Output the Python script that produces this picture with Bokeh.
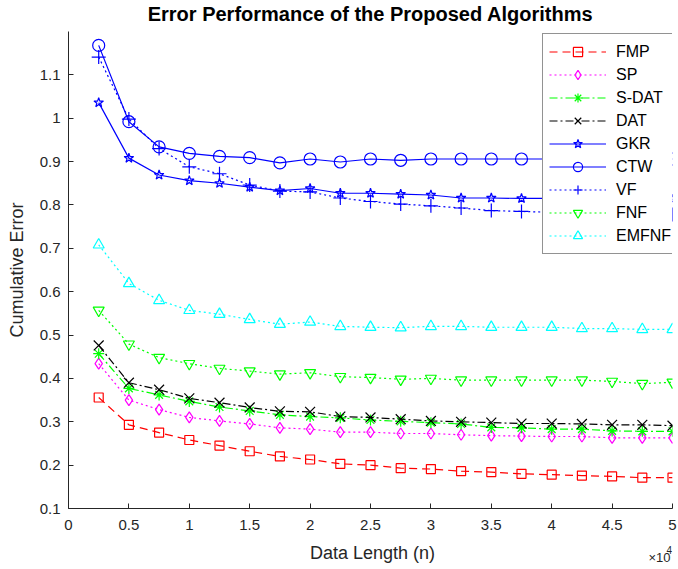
from bokeh.plotting import figure
from bokeh.models import (Range1d, FixedTicker, CustomJSTickFormatter, Legend, LegendItem, Label)
from bokeh.layouts import column
from bokeh.embed import file_html
from bokeh.resources import INLINE

# ---- data ----
n = [2500, 5000, 7500, 10000, 12500, 15000, 17500, 20000, 22500, 25000,
     27500, 30000, 32500, 35000, 37500, 40000, 42500, 45000, 47500, 50000]

FMP = [0.356, 0.293, 0.275, 0.258, 0.245, 0.232, 0.220, 0.213, 0.203, 0.200,
       0.193, 0.191, 0.186, 0.184, 0.180, 0.178, 0.176, 0.174, 0.171, 0.171]
SP = [0.434, 0.350, 0.328, 0.310, 0.302, 0.295, 0.286, 0.283, 0.276, 0.276,
      0.273, 0.273, 0.270, 0.268, 0.267, 0.266, 0.266, 0.263, 0.263, 0.263]
SDAT = [0.457, 0.377, 0.362, 0.347, 0.334, 0.325, 0.316, 0.312, 0.309, 0.304,
        0.301, 0.298, 0.295, 0.287, 0.286, 0.283, 0.283, 0.279, 0.278, 0.278]
DAT = [0.476, 0.390, 0.374, 0.354, 0.344, 0.333, 0.324, 0.323, 0.312, 0.310,
       0.306, 0.302, 0.300, 0.298, 0.296, 0.296, 0.295, 0.293, 0.293, 0.291]
GKR = [1.036, 0.908, 0.869, 0.856, 0.850, 0.841, 0.833, 0.838, 0.827, 0.827,
       0.825, 0.823, 0.816, 0.816, 0.815, 0.815, 0.814, 0.814, 0.813, 0.813]
CTW = [1.168, 0.992, 0.934, 0.919, 0.912, 0.909, 0.897, 0.906, 0.899, 0.906,
       0.903, 0.906, 0.906, 0.906, 0.906, 0.906, 0.906, 0.906, 0.906, 0.906]
VF = [1.141, 0.998, 0.930, 0.888, 0.872, 0.846, 0.832, 0.830, 0.816, 0.808,
      0.802, 0.798, 0.793, 0.787, 0.785, 0.783, 0.782, 0.780, 0.779, 0.778]
FNF = [0.557, 0.479, 0.448, 0.434, 0.423, 0.417, 0.410, 0.413, 0.404, 0.402,
       0.398, 0.400, 0.396, 0.396, 0.396, 0.396, 0.396, 0.393, 0.388, 0.391]
EMFNF = [0.708, 0.619, 0.580, 0.557, 0.548, 0.536, 0.525, 0.530, 0.520, 0.518,
         0.517, 0.520, 0.520, 0.518, 0.518, 0.518, 0.515, 0.515, 0.513, 0.513]

names = ["FMP", "SP", "S-DAT", "DAT", "GKR", "CTW", "VF", "FNF", "EMFNF"]
series = [FMP, SP, SDAT, DAT, GKR, CTW, VF, FNF, EMFNF]
colors = ["#ff0000", "#ff00ff", "#00ff00", "#000000", "#0000ff", "#0000ff",
          "#0000ff", "#00ff00", "#00ffff"]
dashes = ["8 5", "2 3", "8 3 2 3", "8 3 2 3", "solid", "solid", "2 3", "2 3", "2 3"]
markers = ["square", "diamond", "asterisk", "x", "star", "circle", "cross",
           "inverted_triangle", "triangle"]
msizes = [9, 11, 11, 14, 10, 12, 14, 11, 11]

x_ticks = [0, 5000, 10000, 15000, 20000, 25000, 30000, 35000, 40000, 45000, 50000]
y_ticks = [0.1, 0.2, 0.3, 0.4, 0.5, 0.6, 0.7, 0.8, 0.9, 1.0, 1.1]
title_text = "Error Performance of the Proposed Algorithms"
x_label = "Data Length (n)"
y_label = "Cumulative Error"

FONT = "Liberation Sans"
AX = "#262626"
W = 678
LEFT, RIGHT = 68, 6
TOP_H, MAIN_H, BOT_H = 31, 508, 29

xr = Range1d(0, 50000)
X_MID = (xr.start + xr.end) / 2


def strip(h):
    f = figure(width=W, height=h, x_range=xr, y_range=Range1d(0, h),
               x_axis_type=None, y_axis_type=None, output_backend="svg",
               toolbar_location=None, min_border=0,
               min_border_left=LEFT, min_border_right=RIGHT)
    f.outline_line_color = None
    f.grid.visible = False
    return f


# ---- title strip ----
p_top = strip(TOP_H)
p_top.add_layout(Label(x=X_MID, y=TOP_H - 13, text=title_text,
                       text_font=FONT, text_font_size="20px", text_font_style="bold",
                       text_color="#000000", text_align="center",
                       text_baseline="middle"))

# ---- main plot ----
p = figure(width=W, height=MAIN_H,
           x_range=xr, y_range=Range1d(0.1, 1.2),
           output_backend="svg", toolbar_location=None,
           min_border_left=LEFT, min_border_right=RIGHT, min_border_top=0,
           min_border_bottom=31)
p.grid.visible = False
p.outline_line_color = None

p.xaxis.ticker = FixedTicker(ticks=x_ticks)
p.yaxis.ticker = FixedTicker(ticks=y_ticks)
p.xaxis.formatter = CustomJSTickFormatter(code="return String(Math.round(tick/1000)/10);")
p.yaxis.formatter = CustomJSTickFormatter(code="return String(Math.round(tick*10)/10);")
for ax in (p.xaxis, p.yaxis):
    ax.axis_line_color = AX
    ax.major_tick_line_color = AX
    ax.major_tick_in = 5
    ax.major_tick_out = 0
    ax.minor_tick_line_color = None
    ax.major_label_text_font = FONT
    ax.major_label_text_font_size = "15px"
    ax.major_label_text_color = AX
    ax.axis_label_text_font = FONT
    ax.axis_label_text_font_size = "18px"
    ax.axis_label_text_font_style = "normal"
    ax.axis_label_text_color = AX
p.yaxis.axis_label = y_label
p.xaxis.major_label_standoff = 11
p.yaxis.major_label_standoff = 8
p.yaxis.axis_label_standoff = 10

items = []
for name, ys, c, d, m, s in zip(names, series, colors, dashes, markers, msizes):
    ln = p.line(n, ys, line_color=c, line_width=1.2, line_dash=d)
    sc = p.scatter(n, ys, marker=m, size=s, line_color=c, line_width=1.2,
                   fill_alpha=0)
    items.append(LegendItem(label=name, renderers=[ln, sc]))

legend = Legend(items=items, location=(474, 254))
legend.label_text_font = FONT
legend.label_text_font_size = "16px"
legend.label_text_color = "#000000"
legend.glyph_width = 57
legend.glyph_height = 23
legend.label_height = 23
legend.spacing = 0
legend.padding = 6
legend.margin = 0
legend.label_standoff = 10
legend.border_line_color = AX
legend.border_line_width = 1
legend.background_fill_color = "white"
legend.background_fill_alpha = 1
p.add_layout(legend, "center")

# ---- x label strip ----
p_bot = strip(BOT_H)
p_bot.add_layout(Label(x=X_MID, x_offset=2, y=BOT_H - 13, text=x_label,
                       text_font=FONT, text_font_size="18px", text_color=AX,
                       text_align="center", text_baseline="middle"))
p_bot.add_layout(Label(x=xr.end, x_offset=-24, y=BOT_H - 18, text="×10",
                       text_font=FONT, text_font_size="13px", text_color=AX,
                       text_align="left", text_baseline="middle"))
p_bot.add_layout(Label(x=xr.end, x_offset=-6, y=BOT_H - 10, text="4",
                       text_font=FONT, text_font_size="10px", text_color=AX,
                       text_align="left", text_baseline="middle"))

layout = column(p_top, p, p_bot, spacing=0)
open("out.html", "w").write(file_html(layout, INLINE))
